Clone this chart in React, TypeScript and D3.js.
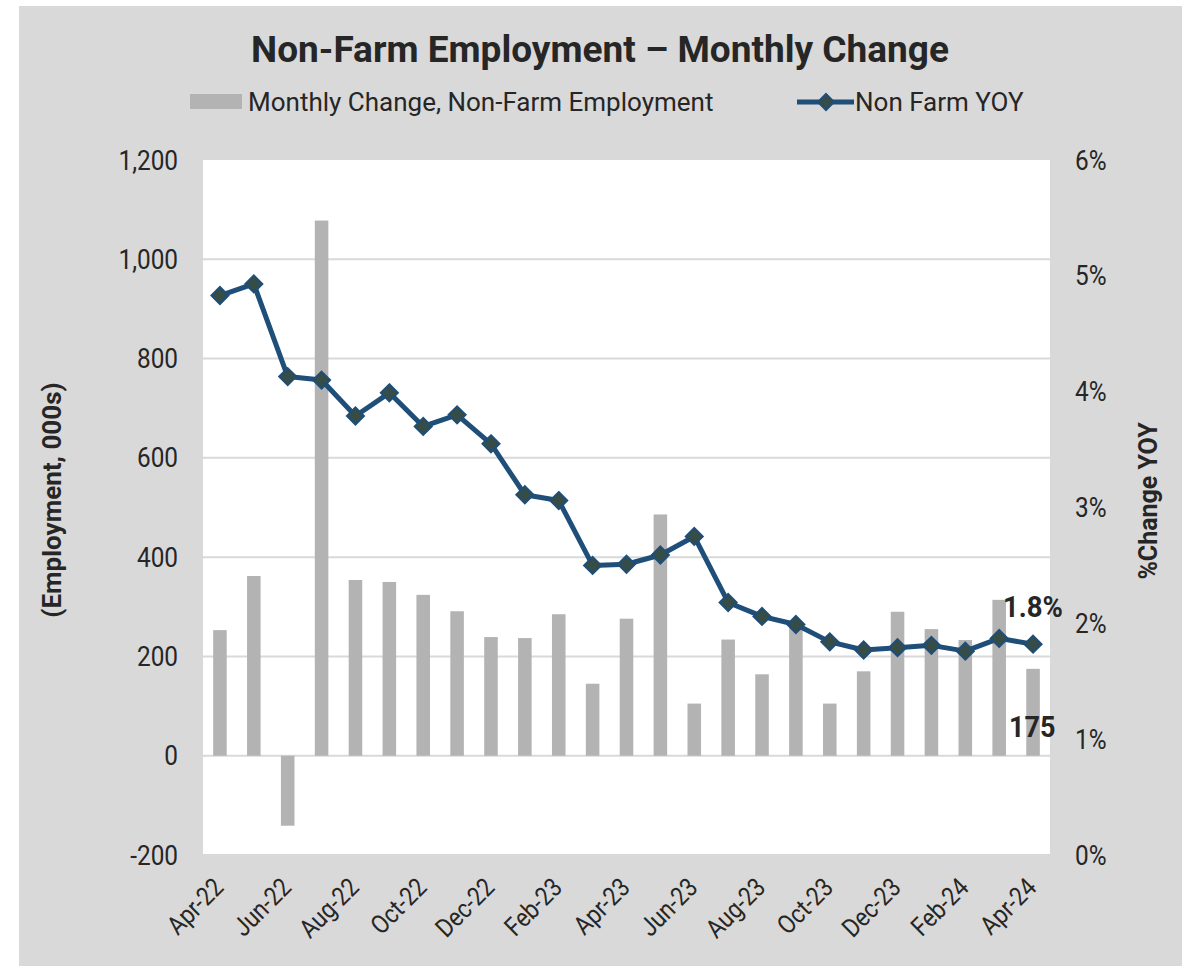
import React from "react";
import * as d3 from "d3";

const months = [
  "Apr-22","May-22","Jun-22","Jul-22","Aug-22","Sep-22","Oct-22","Nov-22","Dec-22",
  "Jan-23","Feb-23","Mar-23","Apr-23","May-23","Jun-23","Jul-23","Aug-23","Sep-23",
  "Oct-23","Nov-23","Dec-23","Jan-24","Feb-24","Mar-24","Apr-24",
];
const monthlyChange = [
  253, 362, -141, 1078, 354, 350, 324, 291, 239,
  237, 285, 145, 276, 486, 105, 234, 164, 259,
  105, 170, 290, 255, 233, 314, 175,
];
const yoy = [
  4.83, 4.93, 4.13, 4.10, 3.79, 3.99, 3.70, 3.80, 3.55,
  3.11, 3.06, 2.50, 2.51, 2.59, 2.75, 2.18, 2.06, 1.99,
  1.84, 1.77, 1.79, 1.81, 1.76, 1.87, 1.82,
];
const leftTicks = [-200, 0, 200, 400, 600, 800, 1000, 1200];
const rightTicks = [0, 1, 2, 3, 4, 5, 6];

const FONT = "Roboto, 'Noto Sans', sans-serif";
const TXT = "#262626";

function T({ x, y, rot = 0, size, weight = 400, anchor = "start", base, children, fill = TXT, sx = 0.87 }: any) {
  return (
    <text
      transform={`translate(${x},${y}) rotate(${rot}) scale(${sx},1)`}
      fontFamily={FONT}
      fontSize={size}
      fontWeight={weight}
      textAnchor={anchor}
      dominantBaseline={base}
      fill={fill}
    >
      {children}
    </text>
  );
}

const fmtLeft = (t: number) => d3.format(",")(Math.abs(t)).replace(/^/, t < 0 ? "-" : "");

export default function App() {
  const W = 1191, H = 966;
  const left = 203, right = 1050, top = 160, bottom = 855;

  const x = d3.scaleBand<string>().domain(months).range([left, right]).paddingInner(0.6).paddingOuter(0.3);
  const yL = d3.scaleLinear().domain([-200, 1200]).range([bottom, top]);
  const yR = d3.scaleLinear().domain([0, 6]).range([bottom, top]);
  const cx = (m: string) => (x(m) as number) + x.bandwidth() / 2;

  const line = d3.line<number>().x((_, i) => cx(months[i])).y((d) => yR(d));
  const diamond = (px: number, py: number, r: number) =>
    `M${px},${py - r}L${px + r},${py}L${px},${py + r}L${px - r},${py}Z`;

  const last = months.length - 1;

  return (
    <svg width={W} height={H} style={{ position: "absolute", left: 0, top: 0 }}>
      <rect x={19} y={6} width={1163} height={960} fill="#d9d9d9" />
      <rect x={left} y={top} width={right - left} height={bottom - top} fill="#ffffff" />

      {leftTicks.filter((t) => t < 1200).map((t) => (
        <line key={t} x1={left} x2={right} y1={yL(t)} y2={yL(t)} stroke="#d9d9d9" strokeWidth={2} />
      ))}

      {monthlyChange.map((v, i) => (
        <rect
          key={months[i]}
          x={x(months[i])}
          y={yL(Math.max(0, v))}
          width={x.bandwidth()}
          height={Math.abs(yL(v) - yL(0))}
          fill="#b3b3b3"
        />
      ))}

      <path d={line(yoy) || ""} fill="none" stroke="#1f4e79" strokeWidth={5} strokeLinejoin="round" />
      {yoy.map((v, i) => (
        <path key={i} d={diamond(cx(months[i]), yR(v), 8.5)} fill="#364c46" stroke="#1f4e79" strokeWidth={2} />
      ))}

      {leftTicks.map((t) => (
        <T key={t} x={178} y={yL(t)} size={28} anchor="end" base="central">
          {fmtLeft(t)}
        </T>
      ))}
      {rightTicks.map((t) => (
        <T key={t} x={1075} y={yR(t)} size={28} base="central">
          {t + "%"}
        </T>
      ))}

      {months.map((m, i) =>
        i % 2 === 0 ? (
          <T key={m} x={cx(m) + 5} y={889} rot={-45} size={26} anchor="end">
            {m}
          </T>
        ) : null
      )}

      <T x={600} y={62} size={37} weight={700} anchor="middle" sx={1.0}>
        Non-Farm Employment – Monthly Change
      </T>

      <rect x={190} y={94} width={52} height={15} fill="#b3b3b3" />
      <T x={248} y={111} size={26} sx={1.0}>Monthly Change, Non-Farm Employment</T>
      <line x1={797} x2={854} y1={102} y2={102} stroke="#1f4e79" strokeWidth={5} />
      <path d={diamond(826, 102, 8)} fill="#364c46" stroke="#1f4e79" strokeWidth={2} />
      <T x={855} y={111} size={26} sx={1.0}>Non Farm YOY</T>

      <T x={52} y={500} rot={-90} size={26} weight={700} anchor="middle" base="central" sx={1.0}>
        (Employment, 000s)
      </T>
      <T x={1148} y={501} rot={-90} size={26} weight={700} anchor="middle" base="central" sx={0.96}>
        %Change YOY
      </T>

      <T x={1003} y={617} size={29} weight={700} sx={0.95}>
        {d3.format(".1f")(yoy[last]) + "%"}
      </T>
      <T x={1009} y={737} size={29} weight={700} sx={0.93}>
        {String(monthlyChange[last])}
      </T>
    </svg>
  );
}
